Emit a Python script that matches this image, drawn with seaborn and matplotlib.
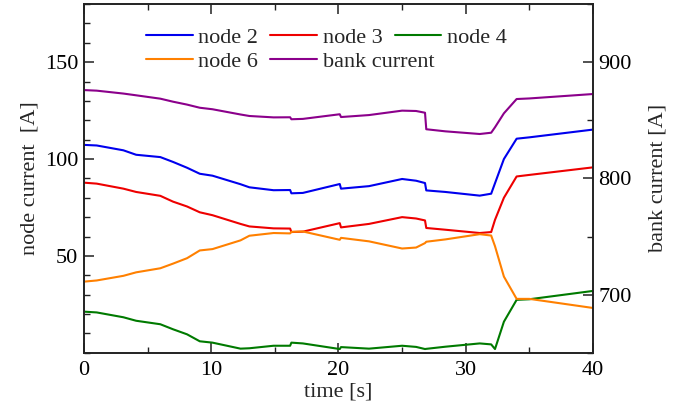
import matplotlib
matplotlib.use("Agg")
import matplotlib.pyplot as plt
from matplotlib.ticker import MultipleLocator, FixedLocator
import pandas as pd
import seaborn as sns

# Sample times [s]
time_s = [0, 1, 3.1, 4.1, 6, 7, 8.1, 9.1, 10.1, 12.3, 13, 14.9, 16.2, 16.3, 17.2,
          20.1, 20.2, 22.4, 25, 26.1, 26.8, 26.9, 28.4, 31.1, 32, 32.3, 33, 34, 35, 40]

# Node currents [A]
node2 = [107.3, 107.0, 104.5, 102.2, 101.0, 98.5, 95.5, 92.4, 91.4, 87.0, 85.4, 83.9, 84.0, 82.3, 82.5,
         87.1, 84.7, 86.0, 89.7, 88.8, 87.6, 83.8, 83.0, 81.1, 82.1, 87.5, 100.0, 110.5, 111.2, 115.2]
node3 = [87.8, 87.3, 84.7, 83.0, 81.0, 78.0, 75.5, 72.5, 71.0, 66.5, 65.2, 64.2, 64.1, 62.3, 62.5,
         66.9, 64.7, 66.5, 70.0, 69.3, 68.3, 64.4, 63.5, 61.8, 62.3, 68.6, 80.0, 91.0, 91.8, 95.7]
node4 = [21.2, 20.8, 18.3, 16.5, 14.7, 12.1, 9.5, 5.9, 5.2, 2.1, 2.3, 3.6, 3.6, 5.2, 4.8,
         1.9, 2.9, 2.1, 3.6, 3.0, 1.9, 2.0, 3.1, 4.8, 4.3, 1.9, 16.0, 27.3, 27.6, 31.9]
node6 = [36.7, 37.3, 39.7, 41.5, 43.6, 46.0, 48.8, 52.8, 53.5, 58.0, 60.4, 61.8, 61.6, 62.4, 62.6,
         58.3, 59.3, 57.5, 53.8, 54.3, 56.6, 57.3, 58.5, 61.2, 60.5, 55.0, 39.3, 27.8, 27.8, 23.1]

# Bank current [A]
bank = [876.0, 875.5, 873.0, 871.5, 868.6, 866.0, 863.5, 860.8, 859.5, 855.0, 853.7, 852.5, 852.6, 850.9, 851.2,
        855.2, 852.8, 854.5, 858.3, 858.0, 856.5, 842.3, 840.5, 838.2, 839.3, 844.0, 856.0, 868.3, 868.8, 872.6]

series_names = ["node 2", "node 3", "node 4", "node 6"]
series_colors = ["#0000ee", "#ee0000", "#007a00", "#ff8000"]
bank_color = "#8b008b"

nodes = pd.concat(
    [pd.DataFrame({"time": time_s, "current": vals, "series": name})
     for name, vals in zip(series_names, [node2, node3, node4, node6])],
    ignore_index=True,
)
bank_df = pd.DataFrame({"time": time_s, "current": bank})

sns.set_theme(style="ticks")
plt.rcParams["font.family"] = ["Liberation Serif", "DejaVu Serif"]

fig = plt.figure(figsize=(6.86, 4.08), dpi=100)
ax = fig.add_axes([0.1224, 0.1355, 0.7420, 0.8545])
ax2 = ax.twinx()

sns.lineplot(data=nodes, x="time", y="current", hue="series", hue_order=series_names,
             palette=dict(zip(series_names, series_colors)), linewidth=1.5,
             ax=ax, legend=False, sort=False)
sns.lineplot(data=bank_df, x="time", y="current", color=bank_color, linewidth=1.5,
             ax=ax2, legend=False, sort=False)

ax.set_xlim(0, 40)
ax.set_ylim(0, 180)
ax2.set_ylim(650, 950)

ax.xaxis.set_major_locator(FixedLocator([0, 10, 20, 30, 40]))
ax.xaxis.set_minor_locator(MultipleLocator(5))
ax.yaxis.set_major_locator(FixedLocator([50, 100, 150]))
ax.yaxis.set_minor_locator(MultipleLocator(10))
ax2.yaxis.set_major_locator(FixedLocator([700, 800, 900]))
ax2.yaxis.set_minor_locator(MultipleLocator(50))

for a in (ax, ax2):
    for sp in a.spines.values():
        sp.set_linewidth(1.2)
        sp.set_color("#222222")
ax.tick_params(which="both", direction="in", top=True, right=False, labelsize=16,
               colors="#222222", labelcolor="black", pad=4)
ax.tick_params(axis="x", pad=6)
ax.tick_params(which="major", length=7, width=1.1)
ax.tick_params(which="minor", length=4, width=1.0)
ax2.tick_params(which="both", direction="in", labelsize=16, colors="#222222",
                labelcolor="black", pad=4)
ax2.tick_params(which="major", length=7, width=1.1)
ax2.tick_params(which="minor", length=4, width=1.0)

ax.set_xlabel("time [s]", fontsize=16, labelpad=2)
ax.set_ylabel("node current  [A]", fontsize=16, labelpad=4)
ax2.set_ylabel("bank current [A]", fontsize=16, labelpad=12)

# Two-row legend: node 2, node 3, node 4 on top; node 6, bank current below
line_of = {name: plt.Line2D([], [], color=c, linewidth=1.5) for name, c in zip(series_names, series_colors)}
line_of["bank current"] = plt.Line2D([], [], color=bank_color, linewidth=1.5)
legend_style = dict(loc="upper left", frameon=False, fontsize=16, handlelength=2.1,
                    handletextpad=0.25, columnspacing=0.55, borderaxespad=0.0,
                    borderpad=0.0)
top_row = ["node 2", "node 3", "node 4"]
bottom_row = ["node 6", "bank current"]
leg1 = ax2.legend([line_of[k] for k in top_row], top_row, ncol=3,
                  bbox_to_anchor=(0.122, 0.934), **legend_style)
ax2.add_artist(leg1)
ax2.legend([line_of[k] for k in bottom_row], bottom_row, ncol=2,
           bbox_to_anchor=(0.122, 0.864), **legend_style)

fig.savefig("out.png", dpi=100)
